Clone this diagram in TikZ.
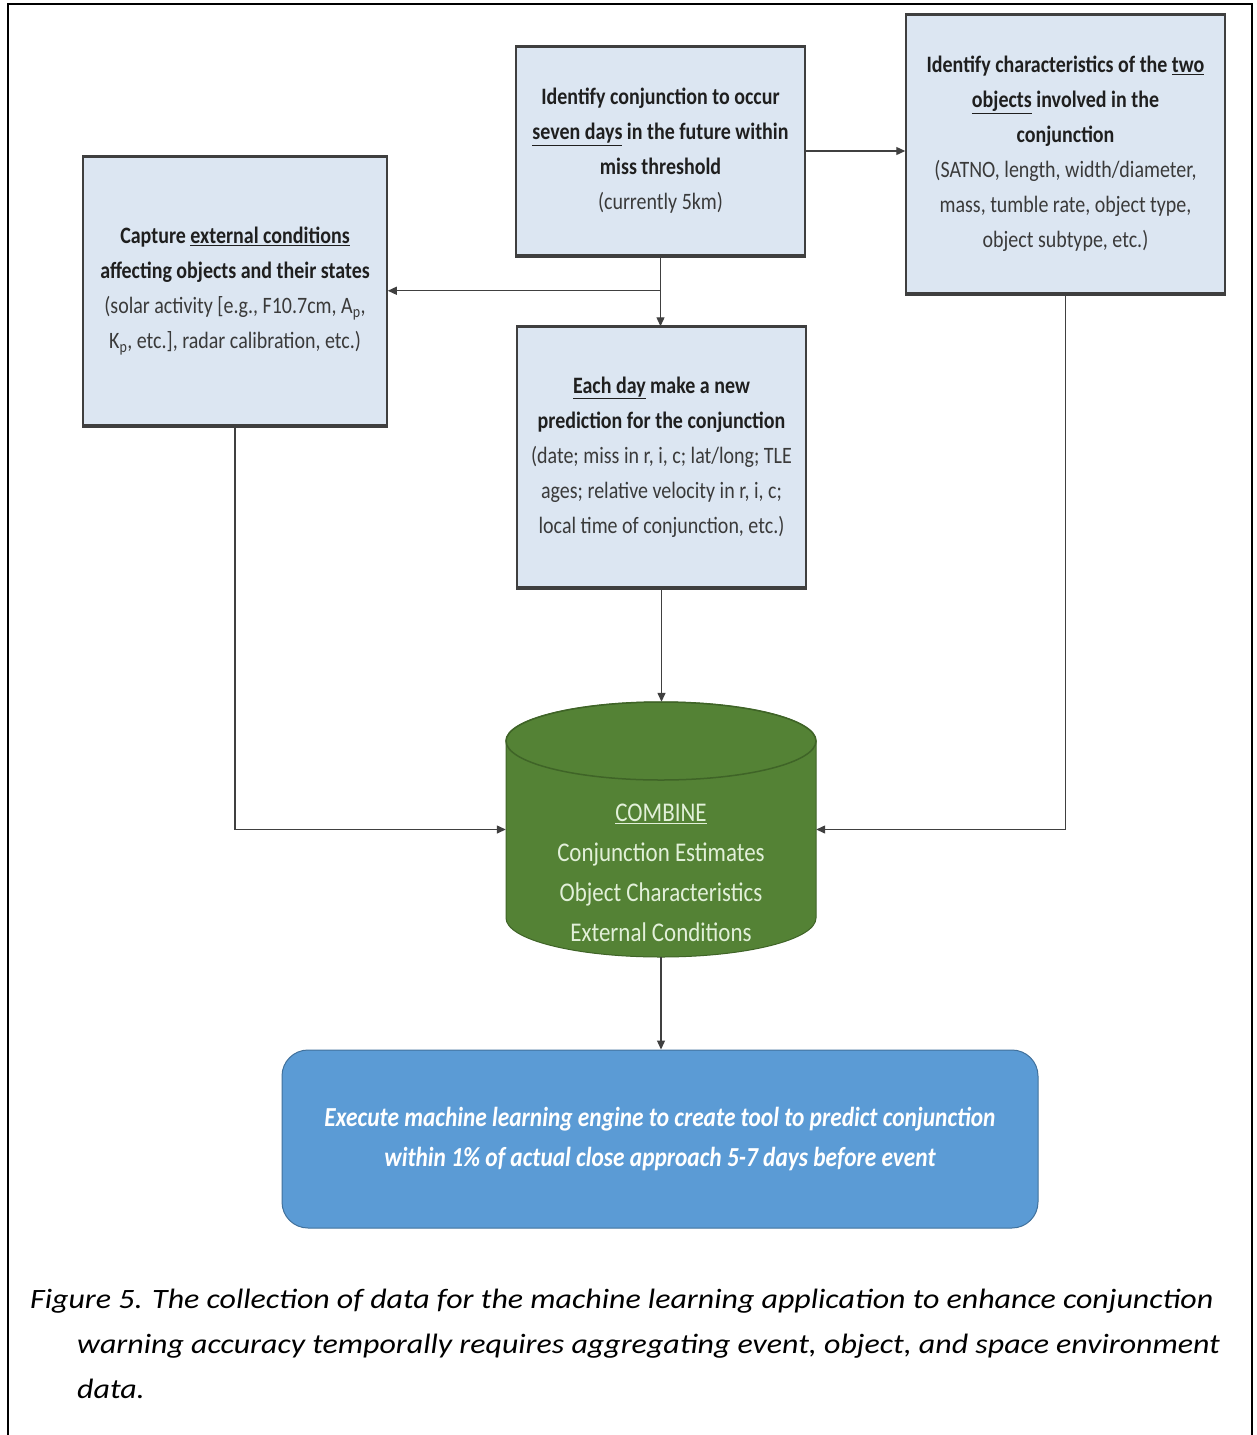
\documentclass[tikz,border=0pt]{standalone}
\usepackage{fontspec}
\setmainfont{Carlito}
\newfontfamily\dfont[FakeStretch=0.85]{Carlito}
\newfontfamily\capfont[FakeStretch=1.14]{Carlito}
\usetikzlibrary{arrows.meta,calc}
\definecolor{boxfill}{HTML}{DCE6F2}
\definecolor{boxline}{HTML}{3F3F3F}
\definecolor{txt}{HTML}{1F1F1F}
\definecolor{txtlight}{HTML}{3A3A3A}
\definecolor{cylgreen}{HTML}{548235}
\definecolor{cyledge}{HTML}{3F6427}
\definecolor{cyltxt}{HTML}{E2F0D9}
\definecolor{bluebox}{HTML}{5B9BD5}
\definecolor{blueedge}{HTML}{41719C}
\definecolor{connc}{HTML}{404040}
\begin{document}
\begin{tikzpicture}[x=1pt,y=-1pt,
  procbox/.style={draw=boxline, line width=1.5pt, fill=boxfill, inner sep=0pt, align=center,
    text=txt, font=\dfont\fontsize{23.5}{35}\selectfont},
  thickedge/.style={draw=boxline, line width=3.5pt},
  connector/.style={draw=connc, line width=1.3pt, -{Triangle[length=9pt,width=8pt]}},
]
\useasboundingbox (0,0) rectangle (1256,1435);
\fill[white] (0,0) rectangle (1256,1435);

% outer frame (open at the bottom)
\draw[line width=2pt] (7.5,1435) -- (7.5,4) -- (1252,4) -- (1252,1435);

% top centre box
\node[procbox, minimum width=289pt, minimum height=208pt] (ident) at (660.5,151)
 {\textbf{Identify conjunction to occur}\\
  \textbf{\underline{seven days} in the future within}\\
  \textbf{miss threshold}\\
  \textcolor{txtlight}{(currently 5km)}};
\draw[thickedge] (ident.north west) -- (ident.north east);
\draw[thickedge] (ident.south west) -- (ident.south east);

% right box
\node[procbox, minimum width=319pt, minimum height=278pt] (chars) at (1065.5,154)
 {\textbf{Identify characteristics of the \underline{two}}\\
  \textbf{\underline{objects} involved in the}\\
  \textbf{conjunction}\\
  \textcolor{txtlight}{(SATNO, length, width/diameter,}\\
  \textcolor{txtlight}{mass, tumble rate, object type,}\\
  \textcolor{txtlight}{object subtype, etc.)}};
\draw[thickedge] (chars.north west) -- (chars.north east);
\draw[thickedge] (chars.south west) -- (chars.south east);

% left box
\node[procbox, minimum width=304pt, minimum height=268pt] (capt) at (235,291)
 {\textbf{Capture \underline{external conditions}}\\
  \textbf{affecting objects and their states}\\
  \textcolor{txtlight}{(solar activity [e.g., F10.7cm, A\textsubscript{p},}\\
  \textcolor{txtlight}{K\textsubscript{p}, etc.], radar calibration, etc.)}};
\draw[thickedge] (capt.north west) -- (capt.north east);
\draw[thickedge] (capt.south west) -- (capt.south east);

% middle box
\node[procbox, minimum width=289pt, minimum height=260pt] (pred) at (661.5,457)
 {\textbf{\underline{Each day} make a new}\\
  \textbf{prediction for the conjunction}\\
  \textcolor{txtlight}{(date; miss in r, i, c; lat/long; TLE}\\
  \textcolor{txtlight}{ages; relative velocity in r, i, c;}\\
  \textcolor{txtlight}{local time of conjunction, etc.)}};
\draw[thickedge] (pred.north west) -- (pred.north east);
\draw[thickedge] (pred.south west) -- (pred.south east);

% cylinder
\node[minimum width=310pt, minimum height=255pt, inner sep=0pt] (cyl) at (661,829.5) {};
\path[fill=cylgreen, draw=cyledge, line width=1pt]
  (506,741) -- (506,918) arc[start angle=180, end angle=0, x radius=155, y radius=39]
  -- (816,741) arc[start angle=0, end angle=-180, x radius=155, y radius=39] -- cycle;
\draw[cyledge, line width=1.5pt] (661,741) ellipse [x radius=155, y radius=39];
\node[text=cyltxt, align=center, inner sep=0pt, font=\dfont\fontsize{27}{40}\selectfont] (cyltext) at (661,873)
 {\underline{COMBINE}\\Conjunction Estimates\\Object Characteristics\\External Conditions};

% bottom blue box
\node[draw=blueedge, line width=1pt, fill=bluebox, rounded corners=26pt, minimum width=756pt,
      minimum height=178pt, inner sep=0pt, align=center, text=white,
      font=\dfont\fontsize{27.5}{40}\selectfont\bfseries\itshape] (exec) at (660,1139)
 {Execute machine learning engine to create tool to predict conjunction\\
  within 1\% of actual close approach 5-7 days before event};

% connectors
\coordinate (br) at ($(ident.south)+(0,35)$);
\draw[connector] (ident.south) -- (ident.south |- pred.north);
\draw[connector] (br) -- (br -| capt.east);
\draw[connector] (ident.east) -- (ident.east -| chars.west);
\draw[connector] (capt.south) |- (cyl.west);
\draw[connector] (chars.south) |- (cyl.east);
\draw[connector] (pred.south) -- (pred.south |- cyl.north);
\draw[connector] (cyl.south) -- (cyl.south |- exec.north);

% caption
\begin{scope}[every node/.style={anchor=base west, inner sep=0pt, font=\capfont\fontsize{28}{45}\selectfont\itshape}]
\node (cap1) at (30,1308) {Figure 5. The collection of data for the machine learning application to enhance conjunction};
\node (cap2) at (77,1353) {warning accuracy temporally requires aggregating event, object, and space environment};
\node (cap3) at (77,1398) {data.};
\end{scope}
\end{tikzpicture}
\end{document}
